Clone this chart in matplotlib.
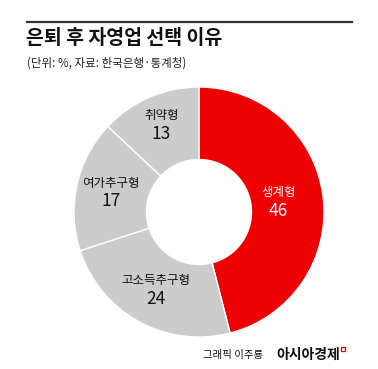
import numpy as np
import matplotlib
matplotlib.use("Agg")
import matplotlib.pyplot as plt
from matplotlib.patches import Rectangle
from matplotlib.lines import Line2D

plt.rcParams['font.family'] = ['Noto Sans CJK KR', 'DejaVu Sans']

# ---- data ----
categories = ["생계형", "고소득추구형", "여가추구형", "취약형"]
values = [46, 24, 17, 13]
title = "은퇴 후 자영업 선택 이유"
subtitle = "(단위: %, 자료: 한국은행·통계청)"
credit = "그래픽 이주룡"
brand = "아시아경제"

# ---- style ----
colors = ["#ee0000", "#cccccc", "#cccccc", "#cccccc"]
label_colors = ["white", "#111111", "#111111", "#111111"]
label_radius = [0.64, 0.71, 0.72, 0.76]

W, H = 378, 369
fig = plt.figure(figsize=(W / 100, H / 100), dpi=100)
fig.patch.set_facecolor("white")

def fx(px):
    return px / W

def fy(py):
    return 1 - py / H

# header rule
fig.add_artist(Line2D([fx(27), fx(352)], [fy(22), fy(22)], color="#333333", lw=1.6))
fig.text(fx(26), fy(39), title, fontsize=14, fontweight="bold", color="#111111",
         ha="left", va="center")
fig.text(fx(27), fy(63), subtitle, fontsize=8.3, color="#222222", ha="left", va="center")

# donut
cx, cy, R = 199, 212, 125
ax = fig.add_axes([fx(cx - R), fy(cy + R), (2 * R) / W, (2 * R) / H])
wedges, _ = ax.pie(values, colors=colors, startangle=90, counterclock=False,
                   wedgeprops=dict(width=0.58, edgecolor="white", linewidth=1.0))
ax.set_xlim(-1, 1)
ax.set_ylim(-1, 1)
ax.set_aspect("equal")
ax.axis("off")

for w, cat, val, lc, r in zip(wedges, categories, values, label_colors, label_radius):
    ang = np.deg2rad((w.theta1 + w.theta2) / 2)
    x, y = r * np.cos(ang), r * np.sin(ang)
    ax.annotate(cat, xy=(x, y), xytext=(0, 6.5), textcoords="offset points",
                ha="center", va="center", fontsize=9, color=lc)
    ax.annotate(str(val), xy=(x, y), xytext=(0, -6.5), textcoords="offset points",
                ha="center", va="center", fontsize=12.5, fontweight="medium", color=lc)

# footer
fig.text(fx(263), fy(355), credit, fontsize=7.5, color="#111111", ha="right", va="center")
fig.text(fx(276), fy(355), brand, fontsize=10, fontweight="bold", color="#111111",
         ha="left", va="center")
fig.add_artist(Rectangle((fx(341), fy(351)), fx(4), 4 / H, fill=False,
                         edgecolor="#dd0000", lw=0.9))

fig.savefig("out.png", dpi=100, facecolor="white")
